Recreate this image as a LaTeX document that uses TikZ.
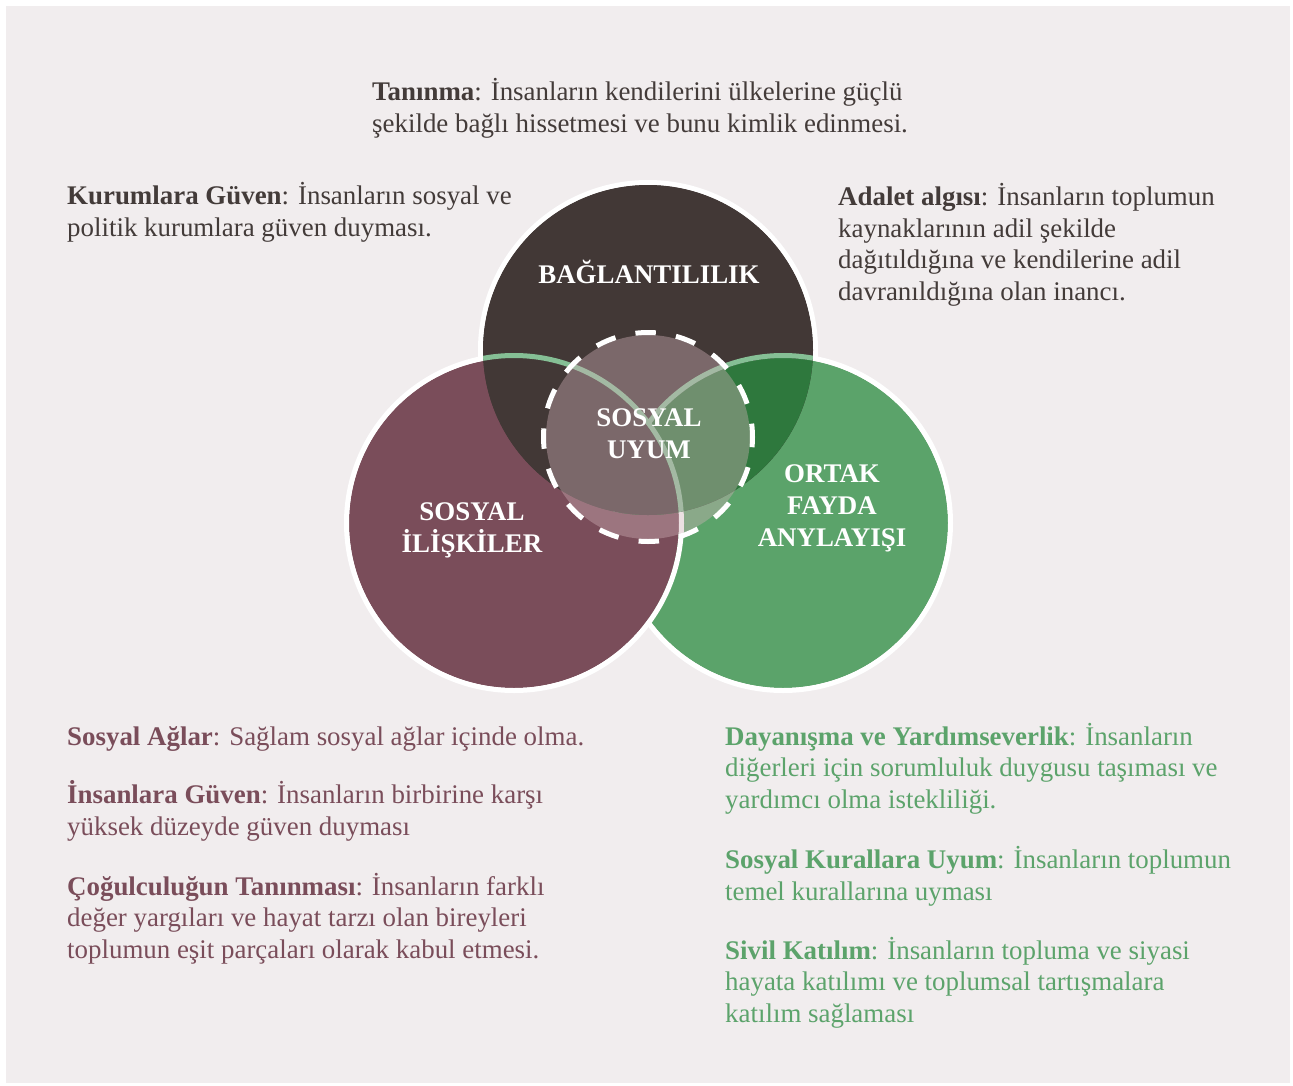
\documentclass[tikz,border=0pt]{standalone}
\usepackage{fontspec}
\setmainfont{Liberation Serif}

\definecolor{panel}{HTML}{F1EDEE}
\definecolor{darkc}{HTML}{423836}
\definecolor{maroonc}{HTML}{7A4D5A}
\definecolor{greenc}{HTML}{5BA36A}
\definecolor{dgreenc}{HTML}{2E783D}
\definecolor{arcgreen}{HTML}{85BF95}
\definecolor{veil}{HTML}{D1B2B8}
\definecolor{txtdark}{HTML}{433B39}
\definecolor{txtmaroon}{HTML}{7A4D5A}
\definecolor{txtgreen}{HTML}{5CA36B}

\tikzset{
  body/.style={anchor=base west, align=left, inner sep=0pt,
    font=\fontsize{27}{31.5}\selectfont},
  label/.style={anchor=base, align=center, inner sep=0pt, text=white,
    font=\fontsize{27}{32}\selectfont\bfseries},
  rim/.style={draw=white, line width=5bp},
  arcline/.style={draw=arcgreen, line width=5bp}
}

\begin{document}
\begin{tikzpicture}[x=1bp,y=-1bp]
\useasboundingbox (0,0) rectangle (1293,1086);
\fill[white] (0,0) rectangle (1293,1086);
\fill[panel] (6,6) rectangle (1290,1083);

\coordinate (top) at (648,350);
\coordinate (left) at (514,523);
\coordinate (right) at (783,523);
\coordinate (mid) at (648,437);

% three circles with white rims
\fill[darkc] (top) circle[radius=165];
\draw[rim] (top) circle[radius=167.5];
\fill[greenc] (right) circle[radius=165];
\draw[rim] (right) circle[radius=167.5];
\fill[maroonc] (left) circle[radius=165];
\draw[rim] (left) circle[radius=167.5];

% overlaps inside the top circle
\begin{scope}
  \clip (top) circle[radius=165];
  \fill[darkc] (top) circle[radius=166];
  \begin{scope}
    \clip (right) circle[radius=165];
    \fill[dgreenc] (top) circle[radius=166];
  \end{scope}
  \draw[arcline] (right) circle[radius=167.5];
  \fill[darkc] (left) circle[radius=165];
  \draw[arcline] (left) circle[radius=167.5];
\end{scope}

% centre circle
\fill[veil, fill opacity=.4] (mid) circle[radius=102];
\draw[white, line width=5bp, dash pattern=on 20.42bp off 20.42bp,
  dash phase=10.21bp] (mid) circle[radius=104.5];

% circle labels (base = last line)
\node[label] (baglanti) at (649,283) {BAĞLANTILILIK};
\node[label] (uyum) at (649,458) {SOSYAL\\UYUM};
\node[label] (iliski) at (472,552) {SOSYAL\\İLİŞKİLER};
\node[label] (fayda) at (832,546) {ORTAK\\FAYDA\\ANYLAYIŞI};

% texts above
\node[body, text=txtdark] (tanima) at (372,132)
  {\textbf{Tanınma}: İnsanların kendilerini ülkelerine güçlü\\
  şekilde bağlı hissetmesi ve bunu kimlik edinmesi.};
\node[body, text=txtdark] (kurum) at (67,236)
  {\textbf{Kurumlara Güven}: İnsanların sosyal ve\\
  politik kurumlara güven duyması.};
\node[body, text=txtdark] (adalet) at (838,300)
  {\textbf{Adalet algısı}: İnsanların toplumun\\
  kaynaklarının adil şekilde\\
  dağıtıldığına ve kendilerine adil\\
  davranıldığına olan inancı.};

% texts below left
\node[body, text=txtmaroon] (aglar) at (67,745)
  {\textbf{Sosyal Ağlar}: Sağlam sosyal ağlar içinde olma.};
\node[body, text=txtmaroon] (insan) at (67,835)
  {\textbf{İnsanlara Güven}: İnsanların birbirine karşı\\
  yüksek düzeyde güven duyması};
\node[body, text=txtmaroon] (cogul) at (67,958)
  {\textbf{Çoğulculuğun Tanınması}: İnsanların farklı\\
  değer yargıları ve hayat tarzı olan bireyleri\\
  toplumun eşit parçaları olarak kabul etmesi.};

% texts below right
\node[body, text=txtgreen] (dayan) at (725,808)
  {\textbf{Dayanışma ve Yardımseverlik}: İnsanların\\
  diğerleri için sorumluluk duygusu taşıması ve\\
  yardımcı olma istekliliği.};
\node[body, text=txtgreen] (kural) at (725,900)
  {\textbf{Sosyal Kurallara Uyum}: İnsanların toplumun\\
  temel kurallarına uyması};
\node[body, text=txtgreen] (sivil) at (725,1022)
  {\textbf{Sivil Katılım}: İnsanların topluma ve siyasi\\
  hayata katılımı ve toplumsal tartışmalara\\
  katılım sağlaması};
\end{tikzpicture}
\end{document}
